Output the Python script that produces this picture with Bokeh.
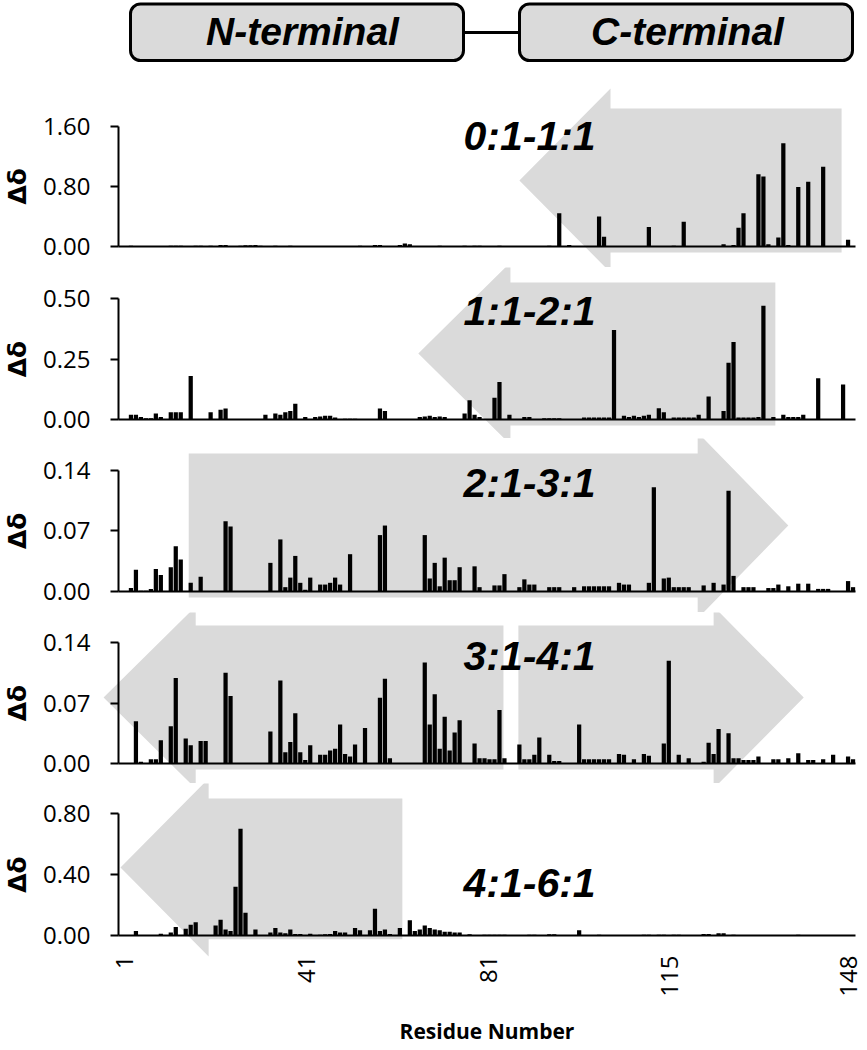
import math
from bokeh.plotting import figure
from bokeh.models import Range1d, LinearAxis, FixedTicker, Label, BoxAnnotation, NumeralTickFormatter
from bokeh.layouts import column
from bokeh.embed import file_html
from bokeh.resources import INLINE

# ---------------- data ----------------
RESIDUES = list(range(1, 149))

CSP_0_1 = [
    0, 0, .01, 0, 0, 0, 0, 0, 0, 0,
    .01, .01, .01, 0, 0, .01, .01, 0, .01, 0,
    .02, .02, 0, 0, .01, .015, .015, .02, .01, 0,
    0, .01, 0, 0, .01, 0, 0, 0, 0, 0,
    0, 0, 0, 0, 0, 0, 0, 0, .01, 0,
    0, .02, .02, 0, 0, 0, .02, .04, .03, 0,
    0, 0, 0, 0, .01, 0, 0, 0, 0, .01,
    0, .01, .01, 0, 0, 0, .01, 0, 0, 0,
    0, 0, 0, 0, 0, 0, .01, 0, .44, 0,
    .02, 0, 0, 0, 0, 0, .40, .13, 0, 0,
    0, 0, 0, 0, 0, 0, .26, 0, 0, 0,
    0, .01, 0, .33, 0, 0, 0, 0, 0, 0,
    0, .03, 0, .02, .25, .44, 0, 0, .96, .93,
    .03, 0, .12, 1.37, .02, 0, .79, 0, .86, 0,
    0, 1.06, 0, 0, 0, 0, .09, 0]

CSP_1_2 = [
    0, 0, .02, .02, .01, .005, .005, .025, .01, 0,
    .03, .03, .03, 0, .18, 0, 0, 0, .03, 0,
    .04, .045, 0, 0, 0, 0, 0, 0, 0, .02,
    0, .025, .02, .03, .035, .065, 0, .01, 0, .01,
    .012, .015, .015, .008, 0, .003, .003, .003, 0, 0,
    0, 0, .045, .035, 0, 0, 0, 0, 0, 0,
    .01, .012, .015, .01, .012, .01, 0, 0, 0, .025,
    .08, .02, .01, 0, 0, .09, .155, 0, .02, 0,
    0, .01, .01, 0, 0, .005, .005, .005, .005, 0,
    0, 0, 0, .008, .008, .008, .008, .008, .008, .37,
    0, .015, .01, .015, .01, .015, .02, 0, .047, .03,
    0, .008, .008, .008, .008, .008, .02, 0, .095, 0,
    0, .035, .235, .32, .008, .008, .008, .008, .01, .47,
    0, .01, 0, .02, .01, .01, .01, .02, 0, 0,
    .17, 0, 0, 0, 0, .145, 0, 0]

CSP_2_3 = [
    0, 0, .004, .025, .001, .001, .003, .026, .019, 0,
    .028, .052, .037, 0, .01, 0, .017, 0, 0, 0,
    0, .081, .075, 0, 0, 0, 0, 0, 0, 0,
    .033, 0, .06, .005, .016, .041, .01, .002, .016, 0,
    .008, .008, .01, .016, .008, 0, .043, 0, 0, 0,
    0, 0, .065, .076, 0, 0, 0, 0, 0, 0,
    0, .065, .015, .033, .006, .039, .013, .013, .028, 0,
    0, .029, .005, 0, 0, .007, .007, .02, 0, 0,
    .005, .014, .008, .008, 0, 0, .005, .005, .005, 0,
    0, .005, 0, .006, .006, .006, .006, .006, .006, 0,
    .01, .008, .008, 0, 0, 0, .01, .12, 0, .015,
    .016, .005, .005, .005, .005, 0, 0, .007, 0, .01,
    0, .008, .116, .018, 0, .005, .005, .005, 0, 0,
    .004, .004, .008, 0, .006, 0, .009, 0, .009, 0,
    .003, .003, .003, 0, 0, 0, .012, .005]

CSP_3_4 = [
    0, 0, 0, .049, .002, 0, .005, .005, .027, 0,
    .043, .099, 0, .029, .021, 0, .026, .026, 0, 0,
    0, .105, .078, 0, 0, 0, 0, 0, 0, 0,
    .037, 0, .096, .013, .025, .058, .013, .004, .021, 0,
    .01, .01, .015, .017, .045, .011, .008, .022, 0, .041,
    0, 0, .076, .098, .006, 0, 0, 0, 0, 0,
    0, .117, .045, .08, .017, .054, .015, .036, .05, 0,
    0, .023, .006, .006, .005, .005, .062, .006, 0, 0,
    .022, .005, .005, .01, .03, 0, .01, .003, .003, 0,
    0, 0, .045, .005, .005, .005, .005, .005, .005, 0,
    .011, .01, 0, .005, 0, .011, .009, 0, 0, .023,
    .119, 0, .01, 0, .006, 0, 0, .002, .024, .011,
    .04, 0, .035, .006, .006, .004, .004, .004, .008, 0,
    0, .005, .005, 0, .006, 0, .012, 0, .004, .004,
    0, .005, 0, .01, 0, 0, .008, .005]

CSP_4_6 = [
    0, 0, 0, .03, 0, 0, 0, 0, .012, 0,
    .02, .055, 0, .045, .07, .087, 0, 0, 0, .065,
    .103, .04, .03, .32, .70, .15, 0, .04, 0, 0,
    .02, .05, .02, .015, .04, .01, .01, 0, .012, 0,
    .005, .008, .01, .03, .02, .02, 0, .05, .035, 0,
    .035, .175, .03, .04, .01, 0, .05, 0, .10, .03,
    .04, .065, .05, .04, .035, .025, .025, .02, .02, 0,
    .008, 0, 0, .005, .005, .005, .005, .005, 0, 0,
    0, 0, .005, .005, 0, 0, .008, .008, 0, 0,
    0, 0, .035, 0, 0, 0, .005, 0, 0, 0,
    0, 0, 0, 0, 0, .005, .005, 0, .005, .005,
    0, .005, .005, 0, 0, 0, 0, .01, .01, 0,
    .015, .015, 0, .005, 0, 0, 0, 0, 0, 0,
    0, 0, 0, 0, 0, 0, .005, 0, 0, 0,
    0, 0, 0, 0, 0, 0, 0, 0]

SERIES = [CSP_0_1, CSP_1_2, CSP_2_3, CSP_3_4, CSP_4_6]
PANEL_TITLES = ["0:1-1:1", "1:1-2:1", "2:1-3:1", "3:1-4:1", "4:1-6:1"]
Y_MAX = [1.60, 0.50, 0.14, 0.14, 0.80]
X_TICK_POS = [1.7, 38.2, 74.7, 111.2, 147.1]
X_TICK_LABELS = ["1", "41", "81", "115", "148"]
DOMAINS = ["N-terminal", "C-terminal"]

for s in SERIES:
    assert len(s) == len(RESIDUES)

# ---------------- layout / style (page pixels) ----------------
ARROW_GREY = "#dadada"
BOX_GREY = "#dadada"
W = 867
AXIS_PX = 118          # page x of the y axis (left edge of residue 1)
PX_PER_RES = 4.98
X_START = 0.5 - AXIS_PX / PX_PER_RES
X_END = X_START + W / PX_PER_RES
HEADER_H = 80
FRAMES = [(80, 267), (267, 438), (438, 612), (612, 783), (783, 1048)]
BASE_PX = [246, 419, 591, 763, 935]
TOP_PX = [125.5, 298, 469.5, 642, 813]
TITLE_MID_PX = [135, 310, 482.5, 655, 882.5]
TITLE_LEFT_PX = 463
DD_CENTER_PX = 17

# arrows: y as fraction of panel's axis maximum
ARROWS = [
    [dict(kind="left", tip=81.0, head=99.3, end=145.7, tf=0.548, ht=1.311, hb=-0.216, bt=1.145, bb=-0.05)],
    [dict(kind="left", tip=60.7, head=79.2, end=132.4, tf=0.545, ht=1.298, hb=-0.207, bt=1.132, bb=-0.05)],
    [dict(kind="right", start=14.6, head=116.8, tip=135.0, tf=0.543, ht=1.309, hb=-0.222, bt=1.136, bb=-0.049)],
    [dict(kind="left", tip=-2.5, head=16.0, end=77.8, tf=0.545, ht=1.298, hb=-0.207, bt=1.140, bb=-0.05),
     dict(kind="right", start=80.8, head=120.0, tip=138.1, tf=0.545, ht=1.298, hb=-0.207, bt=1.140, bb=-0.05)],
    [dict(kind="left", tip=0.9, head=18.6, end=57.5, tf=0.557, ht=1.287, hb=-0.172, bt=1.123, bb=-0.03)],
]


def arrow_poly(a, m):
    if a["kind"] == "left":
        xs = [a["tip"], a["head"], a["head"], a["end"], a["end"], a["head"], a["head"]]
        fs = [a["tf"], a["ht"], a["bt"], a["bt"], a["bb"], a["bb"], a["hb"]]
    else:
        xs = [a["start"], a["head"], a["head"], a["tip"], a["head"], a["head"], a["start"]]
        fs = [a["bt"], a["bt"], a["ht"], a["tf"], a["hb"], a["bb"], a["bb"]]
    return xs, [f * m for f in fs]


def px_to_x(px):
    return (px - AXIS_PX) / PX_PER_RES + 0.5


TICK_FONT = "Open Sans"
TITLE_FONT = "Liberation Sans"
DD_FONT = "DejaVu Sans"

# ---------------- header ----------------
header = figure(frame_width=W, frame_height=HEADER_H,
                x_range=Range1d(0, W), y_range=Range1d(0, HEADER_H),
                x_axis_location=None, y_axis_location=None,
                toolbar_location=None, output_backend="svg",
                min_border=0)
header.outline_line_color = None
header.grid.visible = False


def hy(py):
    return HEADER_H - py


header.segment(x0=[463], y0=[hy(32)], x1=[519], y1=[hy(32)],
               line_color="black", line_width=3)
for (l, r), name, cx in zip([(130, 463), (519, 852)], DOMAINS, [302, 687]):
    header.add_layout(BoxAnnotation(left=l, right=r, bottom=hy(60), top=hy(3.5),
                                    fill_color=BOX_GREY, fill_alpha=1.0,
                                    line_color="black", line_alpha=1.0, line_width=3,
                                    line_dash="solid", border_radius=10))
    header.add_layout(Label(x=cx, y=hy(31), text=name, text_align="center",
                            text_baseline="middle", text_font=TITLE_FONT,
                            text_font_size="39px", text_font_style="bold italic",
                            text_color="black"))

# ---------------- panels ----------------
panels = []
for k in range(5):
    t, b = FRAMES[k]
    y0, y1, m = BASE_PX[k], TOP_PX[k], Y_MAX[k]
    sc = (y0 - y1) / m
    ys, ye = -(b - y0) / sc, m + (y1 - t) / sc
    last = (k == 4)
    p = figure(frame_width=W, frame_height=b - t,
               x_range=Range1d(X_START, X_END), y_range=Range1d(ys, ye),
               x_axis_location=None, y_axis_location=None,
               toolbar_location=None, output_backend="svg",
               min_border=0)
    p.outline_line_color = None
    p.grid.visible = False

    for a in ARROWS[k]:
        axs, ays = arrow_poly(a, m)
        p.patch(axs, ays, fill_color=ARROW_GREY, line_color=None)

    p.vbar(x=RESIDUES, top=SERIES[k], width=0.85, fill_color="black", line_color=None)

    yax = LinearAxis(fixed_location=0.5, bounds=(0, m),
                     ticker=FixedTicker(ticks=[0, m / 2, m]),
                     formatter=NumeralTickFormatter(format="0.00"))
    yax.axis_line_width = 2
    yax.axis_line_color = "black"
    yax.major_tick_line_width = 2
    yax.major_tick_out = 8
    yax.major_tick_in = 0
    yax.minor_tick_line_color = None
    yax.major_label_standoff = 20
    yax.major_label_text_font = TICK_FONT
    yax.major_label_text_font_size = "24px"
    yax.major_label_text_color = "black"
    p.add_layout(yax, "left")

    xax = LinearAxis(fixed_location=0, bounds=(0.5, 148.5),
                     ticker=FixedTicker(ticks=X_TICK_POS if last else []))
    xax.axis_line_width = 2
    xax.axis_line_color = "black"
    xax.major_tick_out = 0
    xax.major_tick_in = 0
    xax.minor_tick_line_color = None
    if last:
        xax.major_label_overrides = {pos: lab for pos, lab in zip(X_TICK_POS, X_TICK_LABELS)}
        xax.major_label_orientation = math.pi / 2
        xax.major_label_standoff = 20
        xax.major_label_text_font = TICK_FONT
        xax.major_label_text_font_size = "24px"
        xax.major_label_text_color = "black"
        xax.axis_label = "Residue Number"
        xax.axis_label_standoff = 17
        xax.axis_label_text_font = TICK_FONT
        xax.axis_label_text_font_size = "21px"
        xax.axis_label_text_font_style = "bold"
        xax.axis_label_text_color = "black"
    p.add_layout(xax, "below")

    p.add_layout(Label(x=px_to_x(DD_CENTER_PX), y=m / 2, text="Δδ", angle=math.pi / 2,
                       text_align="center", text_baseline="middle",
                       text_font=DD_FONT, text_font_size="25px",
                       text_font_style="bold", text_color="black"))
    p.add_layout(Label(x=px_to_x(TITLE_LEFT_PX), y=(y0 - TITLE_MID_PX[k]) / sc,
                       text=PANEL_TITLES[k],
                       text_align="left", text_baseline="middle",
                       text_font=TITLE_FONT, text_font_size="41px",
                       text_font_style="bold italic", text_color="black"))
    panels.append(p)

layout = column(header, *panels, spacing=0)
open("out.html", "w").write(file_html(layout, INLINE))
